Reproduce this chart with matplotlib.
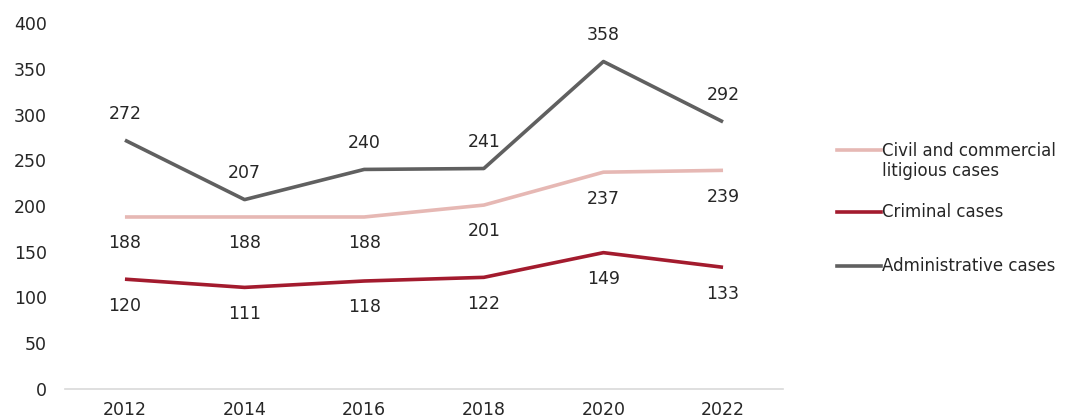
#!/usr/bin/env python3
"""Cases per year: civil/commercial, criminal and administrative (line chart)."""
import matplotlib
matplotlib.use("Agg")
import matplotlib.pyplot as plt
from matplotlib.lines import Line2D

years = ["2012", "2014", "2016", "2018", "2020", "2022"]
civil = [188, 188, 188, 201, 237, 239]
criminal = [120, 111, 118, 122, 149, 133]
administrative = [272, 207, 240, 241, 358, 292]

labels = ["Civil and commercial\nlitigious cases", "Criminal cases", "Administrative cases"]
colors = ["#e6b8b4", "#a31b2e", "#606060"]

plt.rcParams["font.family"] = ["DejaVu Sans"]
TXT = "#262626"
FS = 12.5

fig = plt.figure(figsize=(10.68, 4.2), dpi=100)
ax = fig.add_axes([0.061, 0.074, 0.672, 0.871])

x = range(len(years))
series = [civil, criminal, administrative]
# label offsets in points: admin above, others below
offsets = [-19, -19, 19]
for vals, col, off in zip(series, colors, offsets):
    ax.plot(x, vals, color=col, lw=2.6, solid_capstyle="butt", zorder=3)
    for xi, v in zip(x, vals):
        ax.annotate(str(v), (xi, v), xytext=(0, off), textcoords="offset points",
                    ha="center", va="center", fontsize=FS, color=TXT)

ax.set_xlim(-0.5, len(years) - 0.5)
ax.set_ylim(0, 400)
ax.set_yticks(range(0, 401, 50))
ax.set_xticks(list(x))
ax.set_xticklabels(years)
for s in ["top", "right", "left"]:
    ax.spines[s].set_visible(False)
ax.spines["bottom"].set_color("#d9d9d9")
ax.spines["bottom"].set_linewidth(1.2)
ax.tick_params(axis="both", length=0, labelsize=FS, colors=TXT)
ax.tick_params(axis="x", pad=9)
ax.tick_params(axis="y", pad=13)

# legend drawn by hand to keep the uneven spacing of the original
leg_y = [0.643, 0.495, 0.367]
for lab, col, ly in zip(labels, colors, leg_y):
    fig.add_artist(Line2D([0.784, 0.825], [ly, ly], color=col, lw=2.6,
                          transform=fig.transFigure))
    txt_y = ly - 0.026 if "\n" in lab else ly
    fig.text(0.826, txt_y, lab, fontsize=FS - 0.5,
             color=TXT, va="center", ha="left", linespacing=1.15)

fig.savefig("out.png", dpi=100)
